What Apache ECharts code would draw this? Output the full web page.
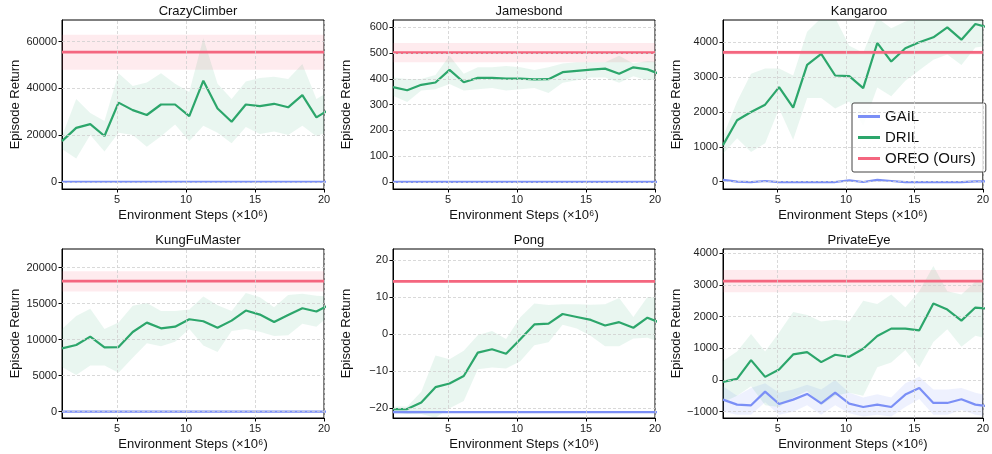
<!DOCTYPE html>
<html>
<head>
<meta charset="utf-8">
<script src="https://cdn.jsdelivr.net/npm/echarts@6/dist/echarts.min.js"></script>
<style>
  html, body { margin: 0; padding: 0; background: #fff; }
  #chart { width: 992px; height: 454px; }
</style>
</head>
<body>
<div id="chart"></div>
<script>
// x positions of the evaluation points (x 10^6 env steps)
const steps = [1.0, 2.03, 3.05, 4.08, 5.1, 6.13, 7.15, 8.18, 9.2, 10.23, 11.25, 12.28, 13.3, 14.33, 15.35, 16.38, 17.4, 18.43, 19.45, 20.48];

// CrazyClimber
const crazyDril = [17400, 23100, 24700, 19600, 33900, 30700, 28600, 33100, 33100, 28100, 43300, 31400, 25700, 33100, 32400, 33400, 31900, 37100, 27600, 31300];
const crazyDrilHi = [19500, 35500, 29500, 26000, 46500, 41000, 42500, 46500, 42000, 38500, 61500, 42000, 35500, 43000, 44500, 45000, 44000, 50500, 35500, 39000];
const crazyDrilLo = [14000, 10000, 20000, 13000, 21000, 20000, 15000, 19500, 24500, 17500, 24000, 21000, 16500, 23500, 20500, 21500, 20000, 24000, 19500, 22000];
const crazyGail = [0, 0, 0, 0, 0, 0, 0, 0, 0, 0, 0, 0, 0, 0, 0, 0, 0, 0, 0, 0];
const crazyOreo = [55500, 48000, 63000]; // mean, low, high

// Jamesbond
const jamesDril = [368, 356, 377, 386, 435, 387, 404, 404, 401, 401, 398, 399, 426, 431, 436, 440, 420, 445, 437, 416];
const jamesDrilHi = [405, 400, 400, 415, 490, 420, 445, 445, 450, 445, 435, 445, 460, 465, 465, 465, 490, 460, 470, 465];
const jamesDrilLo = [335, 310, 355, 360, 380, 355, 360, 365, 355, 360, 365, 345, 385, 395, 405, 405, 385, 410, 395, 400];
const jamesGail = [0, 0, 0, 0, 0, 0, 0, 0, 0, 0, 0, 0, 0, 0, 0, 0, 0, 0, 0, 0];
const jamesOreo = [502, 465, 540];

// Kangaroo
const kangDril = [1048, 1762, 2000, 2210, 2714, 2124, 3352, 3667, 3048, 3029, 2686, 3981, 3448, 3829, 4000, 4143, 4429, 4076, 4524, 4420];
const kangDrilHi = [1300, 2300, 3100, 3250, 3250, 3050, 4300, 4700, 4700, 3900, 3700, 4700, 4400, 4600, 4700, 4700, 4700, 4700, 4700, 4700];
const kangDrilLo = [800, 1250, 850, 1100, 2100, 1200, 2400, 2400, 2100, 2300, 1600, 2700, 2450, 2900, 3200, 3500, 3650, 3350, 3850, 3900];
const kangGail = [50, 0, -10, 20, -10, -10, -10, -10, -10, 40, -10, 50, 20, -10, -10, -10, -10, -10, 10, 10];
const kangOreo = [3710, 3650, 3770];

// KungFuMaster
const kungDril = [8790, 9256, 10420, 8930, 8977, 11070, 12370, 11580, 11810, 12840, 12560, 11670, 12650, 14050, 13490, 12460, 13440, 14370, 13910, 14940];
const kungDrilHi = [11500, 13300, 14300, 11500, 12400, 14700, 15100, 14000, 14000, 14200, 16000, 14800, 14000, 16500, 15900, 14500, 16200, 16400, 16100, 16000];
const kungDrilLo = [6200, 5100, 6400, 6400, 5400, 7500, 9500, 9100, 9700, 11500, 9200, 8300, 11200, 11500, 11100, 10500, 10600, 12200, 11800, 13500];
const kungGail = [0, 0, 0, 0, 0, 0, 0, 0, 0, 0, 0, 0, 0, 0, 0, 0, 0, 0, 0, 0];
const kungOreo = [18140, 16700, 19500];

// Pong
const pongDril = [-20.2, -20.2, -18.4, -14.3, -13.3, -11.3, -5.0, -4.1, -5.3, -1.4, 2.6, 2.8, 5.4, 4.6, 3.8, 2.3, 3.2, 1.7, 4.4, 2.9];
const pongDrilHi = [-19.5, -19.5, -15.5, -5.8, -6.8, -4.5, -0.3, 0.8, -1.3, 4.5, 8.2, 7.8, 8.0, 8.0, 7.9, 8.0, 9.7, 4.6, 10.0, 9.8];
const pongDrilLo = [-21.0, -21.5, -21.5, -22.5, -20.0, -18.0, -9.5, -9.0, -9.3, -7.3, -3.0, -2.2, 2.5, 1.5, -0.5, -3.3, -3.3, -1.2, -1.0, -2.2];
const pongGail = [-21, -21, -21, -21, -21, -21, -21, -21, -21, -21, -21, -21, -21, -21, -21, -21, -21, -21, -21, -21];
const pongGailHi = [-20.4, -20.5, -20.6, -20.8, -20.9, -20.9, -20.9, -20.9, -20.9, -20.9, -20.9, -20.9, -20.9, -20.9, -20.9, -20.9, -20.9, -20.9, -20.9, -20.9];
const pongGailLo = [-21.4, -21.5, -21.4, -21.2, -21.1, -21.1, -21.1, -21.1, -21.1, -21.1, -21.1, -21.1, -21.1, -21.1, -21.1, -21.1, -21.1, -21.1, -21.1, -21.1];
const pongOreo = [14.2, 13.9, 14.5];

// PrivateEye
const privDril = [-59, 36, 628, 99, 332, 808, 882, 564, 797, 733, 987, 1389, 1622, 1622, 1569, 2414, 2224, 1875, 2288, 2250];
const privDrilHi = [600, 900, 1450, 900, 1500, 2150, 2050, 1850, 1900, 1850, 2500, 2400, 2700, 2300, 2800, 3600, 2800, 2700, 3100, 3150];
const privDrilLo = [-700, -500, -200, -800, -850, -550, -350, -800, -500, -400, -500, 400, 550, 950, 400, 1200, 1600, 1050, 1400, 1300];
const privGail = [-620, -778, -800, -366, -757, -620, -440, -736, -397, -746, -852, -778, -852, -461, -250, -725, -725, -609, -778, -840];
const privGailHi = [-200, -500, -250, -100, -400, -300, -150, -300, 0, -400, -550, -450, -550, -100, 100, -300, -300, -250, -400, -500];
const privGailLo = [-1000, -1100, -1100, -700, -1100, -1000, -800, -1100, -800, -1050, -1150, -1100, -1150, -850, -600, -1100, -1100, -950, -1100, -1150];
const privOreo = [3123, 2770, 3470];

const xTicks = [5, 10, 15, 20];

const panels = [
  { title: "CrazyClimber", dril: crazyDril, hi: crazyDrilHi, lo: crazyDrilLo, gail: crazyGail, oreo: crazyOreo,
    yMin: -3100, yMax: 69300, yTicks: [0, 20000, 40000, 60000] },
  { title: "Jamesbond", dril: jamesDril, hi: jamesDrilHi, lo: jamesDrilLo, gail: jamesGail, oreo: jamesOreo,
    yMin: -28, yMax: 629, yTicks: [0, 100, 200, 300, 400, 500, 600] },
  { title: "Kangaroo", dril: kangDril, hi: kangDrilHi, lo: kangDrilLo, gail: kangGail, oreo: kangOreo,
    yMin: -210, yMax: 4640, yTicks: [0, 1000, 2000, 3000, 4000] },
  { title: "KungFuMaster", dril: kungDril, hi: kungDrilHi, lo: kungDrilLo, gail: kungGail, oreo: kungOreo,
    yMin: -880, yMax: 22600, yTicks: [0, 5000, 10000, 15000, 20000] },
  { title: "Pong", dril: pongDril, hi: pongDrilHi, lo: pongDrilLo, gail: pongGail, gailHi: pongGailHi, gailLo: pongGailLo, oreo: pongOreo,
    yMin: -22.6, yMax: 22.9, yTicks: [-20, -10, 0, 10, 20] },
  { title: "PrivateEye", dril: privDril, hi: privDrilHi, lo: privDrilLo, gail: privGail, gailHi: privGailHi, gailLo: privGailLo, oreo: privOreo,
    yMin: -1200, yMax: 4137, yTicks: [-1000, 0, 1000, 2000, 3000, 4000] },
];

const colGail = "#7b8ff6";
const colDril = "#2ca66b";
const colOreo = "#f4667f";

const lefts = [62, 393, 723];
const tops = [20, 249];
const plotW = 262;
const plotH = 169;

const font = "Liberation Sans, Arial, sans-serif";
const fmt = (v) => String(v).replace("-", "\u2212");
const gridLineStyle = { color: "#cfcfcf", type: [3, 2], width: 0.8 };

function pts(ys) {
  return steps.map((x, i) => [x, ys[i]]);
}

function bandSeries(idx, lo, hi, color) {
  return {
    type: "custom",
    xAxisIndex: idx,
    yAxisIndex: idx,
    silent: true,
    z: 1,
    data: [[steps[0], lo[0]]],
    renderItem: function (params, api) {
      const upper = steps.map((x, i) => api.coord([x, hi[i]]));
      const lower = steps.map((x, i) => api.coord([x, lo[i]])).reverse();
      const cs = params.coordSys;
      return {
        type: "polygon",
        shape: { points: upper.concat(lower) },
        style: { fill: color },
        clipPath: { type: "rect", shape: { x: cs.x, y: cs.y, width: cs.width, height: cs.height } },
      };
    },
  };
}

const grid = [], xAxis = [], yAxis = [], title = [], series = [];

panels.forEach((p, i) => {
  const left = lefts[i % 3];
  const top = tops[Math.floor(i / 3)];
  grid.push({ left: left, top: top, width: plotW, height: plotH, show: true, borderColor: "#000", borderWidth: 1, backgroundColor: "#fff" });
  title.push({
    text: p.title, left: left + plotW / 2, top: top - 20, textAlign: "center",
    textStyle: { fontFamily: font, fontSize: 13, fontWeight: "normal", color: "#111" },
  });
  xAxis.push({
    type: "value", gridIndex: i, min: 1, max: 20,
    name: "Environment Steps (\u00d710\u2076)", nameLocation: "middle", nameGap: 20,
    nameTextStyle: { fontFamily: font, fontSize: 13, color: "#111" },
    axisLine: { show: true, onZero: false, lineStyle: { color: "#000" } },
    axisTick: { show: true, length: 3.5, customValues: xTicks, lineStyle: { color: "#000" } },
    axisLabel: { customValues: xTicks, fontFamily: font, fontSize: 11, color: "#222", margin: 5, formatter: fmt },
    splitLine: { show: false },
  });
  yAxis.push({
    type: "value", gridIndex: i, min: p.yMin, max: p.yMax,
    name: "Episode Return", nameLocation: "middle", nameGap: 40,
    nameTextStyle: { fontFamily: font, fontSize: 13, color: "#111" },
    axisLine: { show: true, onZero: false, lineStyle: { color: "#000" } },
    axisTick: { show: true, length: 3.5, customValues: p.yTicks, lineStyle: { color: "#000" } },
    axisLabel: { customValues: p.yTicks, fontFamily: font, fontSize: 11, color: "#222", margin: 5, formatter: fmt },
    splitLine: { show: false },
  });

  // dashed grid lines at the tick positions
  series.push({
    type: "line", xAxisIndex: i, yAxisIndex: i, data: [], z: 0, silent: true,
    markLine: {
      silent: true, symbol: ["none", "none"], label: { show: false },
      lineStyle: gridLineStyle, emphasis: { disabled: true },
      data: xTicks.map((v) => ({ xAxis: v })).concat(p.yTicks.map((v) => ({ yAxis: v }))),
    },
  });

  // shaded bands
  if (p.gailHi) series.push(bandSeries(i, p.gailLo, p.gailHi, "rgba(123,143,246,0.13)"));
  series.push(bandSeries(i, p.lo, p.hi, "rgba(44,166,107,0.10)"));

  series.push({
    name: "GAIL", type: "line", xAxisIndex: i, yAxisIndex: i, data: pts(p.gail),
    symbol: "none", clip: true, z: 3, lineStyle: { color: colGail, width: 2.2 }, itemStyle: { color: colGail },
  });
  series.push({
    name: "DRIL", type: "line", xAxisIndex: i, yAxisIndex: i, data: pts(p.dril),
    symbol: "none", clip: true, z: 3, lineStyle: { color: colDril, width: 2.2 }, itemStyle: { color: colDril },
  });
  series.push({
    name: "OREO (Ours)", type: "line", xAxisIndex: i, yAxisIndex: i,
    data: [[1, p.oreo[0]], [20, p.oreo[0]]],
    symbol: "none", clip: true, z: 4, lineStyle: { color: colOreo, width: 2.8 }, itemStyle: { color: colOreo },
    markArea: {
      silent: true,
      itemStyle: { color: "rgba(244,102,127,0.13)" },
      data: [[{ yAxis: p.oreo[1] }, { yAxis: p.oreo[2] }]],
    },
  });
});

const chart = echarts.init(document.getElementById("chart"), null, { renderer: "canvas" });
chart.setOption({
  animation: false,
  backgroundColor: "#fff",
  title: title,
  grid: grid,
  xAxis: xAxis,
  yAxis: yAxis,
  legend: {
    data: [
      { name: "GAIL", icon: "rect" },
      { name: "DRIL", icon: "rect" },
      { name: "OREO (Ours)", icon: "rect" },
    ],
    orient: "vertical",
    left: 852, top: 103,
    padding: [6, 10, 6, 6],
    itemGap: 6,
    itemWidth: 22, itemHeight: 3,
    backgroundColor: "rgba(255,255,255,0.85)",
    borderColor: "#444", borderWidth: 1, borderRadius: 2,
    textStyle: { fontFamily: font, fontSize: 15, color: "#111", lineHeight: 15 },
  },
  series: series,
});
</script>
</body>
</html>
